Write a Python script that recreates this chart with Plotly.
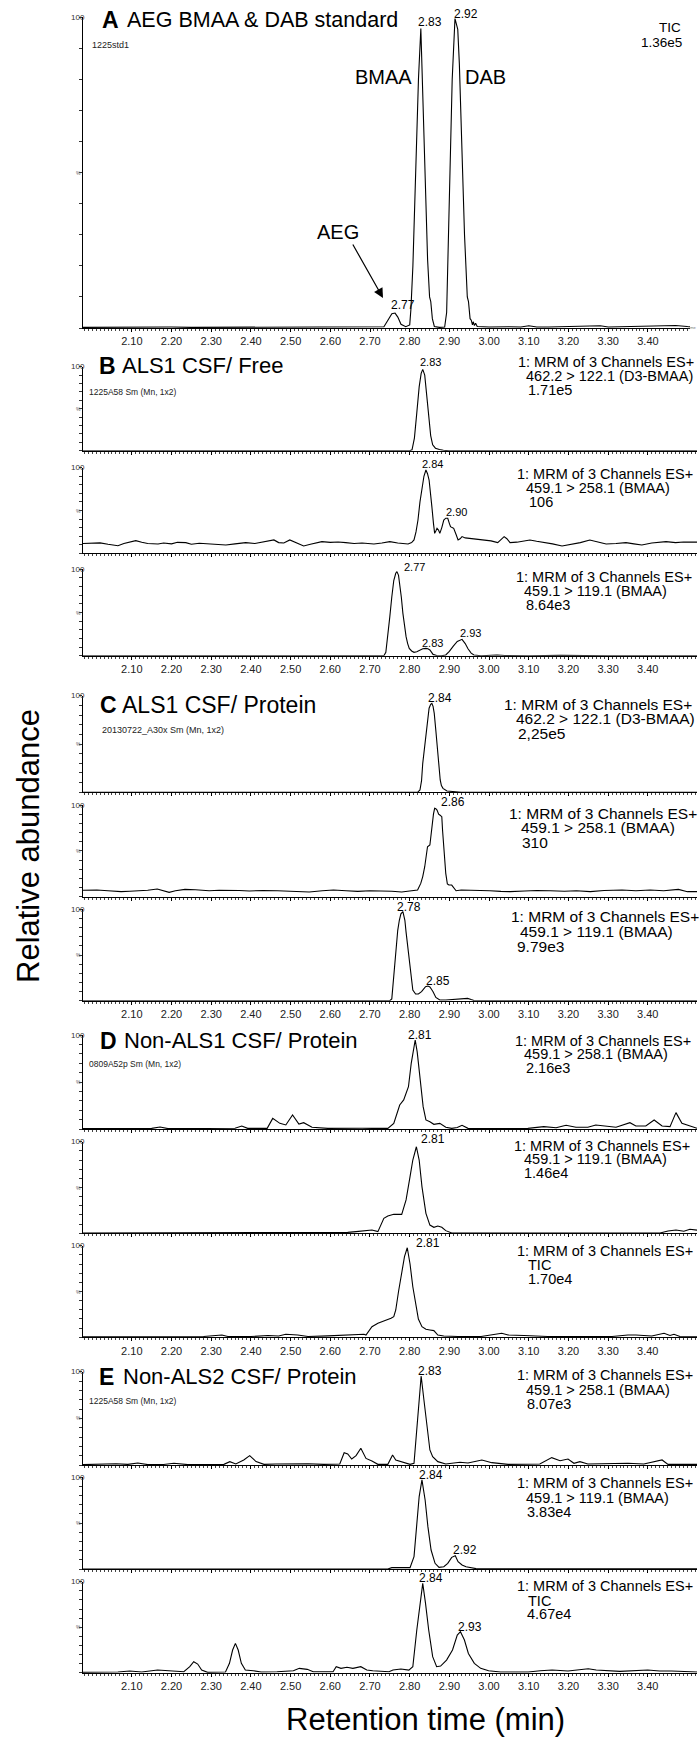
import plotly.graph_objects as go

W, H = 699, 1740
FONT = "Liberation Sans, Arial, Helvetica, sans-serif"

# ---------------- data (retention time, relative abundance %) ----------------
A_pts = [(1.977,0.2),(2.05,0.3),(2.10,0.2),(2.15,0.2),(2.20,0.3),(2.25,0.2),(2.30,0.2),(2.35,0.2),(2.40,0.3),
         (2.45,0.2),(2.50,0.2),(2.55,0.2),(2.60,0.2),(2.65,0.3),(2.70,0.3),(2.735,0.4),(2.745,2.5),(2.755,4.6),
         (2.763,4.8),(2.770,3.5),(2.778,1.2),(2.790,0.4),(2.800,1.0),(2.803,6.0),(2.808,20),(2.815,50),(2.822,80),
         (2.828,96.3),(2.833,75),(2.838,50),(2.845,22),(2.850,10),(2.853,8.5),(2.857,3),(2.862,0.5),(2.875,0.2),
         (2.888,0.3),(2.893,5),(2.900,45),(2.907,80),(2.914,99.5),(2.918,97),(2.921,96),(2.925,85),(2.932,55),
         (2.938,30),(2.945,10),(2.948,8.5),(2.952,3),(2.955,2.5),(2.958,1.0),(2.960,2.0),(2.963,0.8),(2.966,1.5),
         (2.970,0.5),(2.985,0.3),(3.00,0.3),(3.05,0.4),(3.08,0.3),(3.10,0.7),(3.12,0.3),(3.15,0.3),(3.20,0.4),
         (3.25,0.5),(3.28,0.7),(3.30,0.3),(3.35,0.4),(3.40,0.5),(3.45,0.6),(3.47,0.8),(3.506,0.4)]

B1_pts = [(1.977,0),(2.30,0),(2.60,0),(2.80,0),(2.806,1),(2.812,15),(2.818,45),(2.824,76),(2.829,92),(2.833,96.8),
          (2.838,90),(2.843,64),(2.848,38),(2.853,18),(2.858,7),(2.865,3),(2.875,1.5),(2.885,0.5),(2.90,0),
          (3.20,0),(3.524,0)]

B2_pts = [(1.977,11.5),(2.003,11.7),(2.02,12.2),(2.04,10.5),(2.065,8.9),(2.08,11.5),(2.095,13.5),(2.110,14.8),
          (2.125,13),(2.14,11.5),(2.166,10.9),(2.18,12),(2.20,11),(2.215,12.8),(2.236,12.5),(2.25,10.5),(2.27,11.8),
          (2.29,11),(2.307,10.5),(2.337,9.7),(2.36,11),(2.387,12.5),(2.41,11.5),(2.43,13),(2.458,15.6),
          (2.47,12.5),(2.483,12),(2.498,15.6),(2.51,13),(2.533,8.6),(2.55,10.5),(2.579,13.6),(2.60,12.8),
          (2.62,13.2),(2.639,12.5),(2.66,11.5),(2.68,12),(2.710,10.9),(2.73,12),(2.750,13.6),(2.77,12),
          (2.785,11.5),(2.796,10.9),(2.805,12.5),(2.811,15.6),(2.816,25),(2.821,38.9),(2.826,60),(2.831,77.8),
          (2.836,90),(2.841,97.3),(2.845,93),(2.849,85.6),(2.853,70),(2.856,54.5),(2.860,35),(2.863,23.3),
          (2.866,26),(2.869,29.2),(2.873,27),(2.876,23.3),(2.881,30),(2.886,38.9),(2.891,41),(2.896,40.9),
          (2.900,35),(2.903,31.1),(2.907,30),(2.911,29.2),(2.917,22),(2.922,15.6),(2.927,17),(2.932,19.5),
          (2.940,18),(2.952,17.5),(2.97,16.5),(2.992,15.6),(3.005,14.5),(3.022,12.5),(3.030,16),(3.038,19.5),
          (3.045,17),(3.053,12.5),(3.07,13),(3.09,15),(3.103,15.6),(3.12,14),(3.143,12.5),(3.16,11),
          (3.184,8.6),(3.20,10),(3.23,12.5),(3.254,15.6),(3.27,13.5),(3.295,10.9),(3.32,11.5),(3.345,12.5),
          (3.365,11),(3.385,9.7),(3.41,12),(3.446,13.6),(3.47,12.5),(3.49,13.2),(3.524,13)]

B3_pts = [(1.977,0),(2.30,0),(2.60,0),(2.735,0),(2.740,4),(2.745,22),(2.750,45),(2.755,68),(2.760,87),
          (2.765,95.4),(2.768,97.3),(2.772,93),(2.775,84),(2.779,68),(2.783,49),(2.787,34),(2.791,22),
          (2.795,14),(2.799,8.5),(2.805,5.5),(2.811,3.9),(2.818,4.5),(2.826,6.6),(2.833,8),(2.841,8.5),
          (2.846,8),(2.851,6.6),(2.859,1.5),(2.868,0.3),(2.880,0),(2.891,0.8),(2.900,5),(2.910,11),
          (2.920,16.5),(2.932,18.9),(2.940,14),(2.947,8),(2.955,3),(2.962,0.8),(2.98,0),(3.02,0.8),
          (3.04,0.3),(3.10,0),(3.18,0.4),(3.30,0),(3.38,0.3),(3.524,0)]

C1_pts = [(1.977,0),(2.40,0),(2.70,0),(2.82,0),(2.826,2.4),(2.830,12),(2.833,30),(2.838,48),(2.842,64.5),
          (2.846,78),(2.849,87),(2.853,91),(2.856,92),(2.859,89),(2.862,81.7),(2.866,64),(2.869,47.2),
          (2.873,28),(2.877,12.8),(2.880,7),(2.884,4.1),(2.894,1.4),(2.909,0.5),(2.93,0),(3.524,0)]

C2_pts = [(1.977,7.0),(2.012,7.3),(2.04,6.5),(2.073,5.5),(2.095,6),(2.118,6.2),(2.14,7),(2.164,8.4),
          (2.18,6),(2.194,4.7),(2.21,6.5),(2.234,8.0),(2.26,7.5),(2.295,6.5),(2.32,7),(2.345,7.3),
          (2.37,6.8),(2.396,6.2),(2.43,6.8),(2.467,6.5),(2.50,6),(2.547,5.1),(2.58,6.5),(2.608,7.3),
          (2.64,6.5),(2.669,5.8),(2.70,6.5),(2.729,6.5),(2.755,6),(2.780,5.1),(2.800,6),(2.820,7.3),
          (2.828,14.5),(2.833,22),(2.838,32.7),(2.842,45),(2.845,54.5),(2.851,56.4),(2.856,76.4),
          (2.860,90),(2.863,96.4),(2.866,96),(2.869,94.5),(2.873,90),(2.876,89.1),(2.881,87.3),
          (2.883,72),(2.886,54.5),(2.891,25.5),(2.895,14),(2.899,12.7),(2.906,12.7),(2.913,9.1),
          (2.917,6.5),(2.93,7.3),(2.952,7.3),(2.98,6.5),(3.002,6.5),(3.03,5.8),(3.053,5.5),(3.09,6.2),
          (3.12,6.8),(3.154,6.5),(3.19,6),(3.22,6.5),(3.255,5.5),(3.29,6.8),(3.335,7.3),(3.37,6.5),
          (3.406,7.3),(3.44,6.5),(3.477,8.0),(3.50,5.5),(3.524,5.5)]

C3_pts = [(1.977,0),(2.40,0),(2.70,0),(2.750,0),(2.755,2),(2.758,18),(2.762,40.9),(2.766,62),(2.770,77),
          (2.774,88),(2.778,95),(2.783,97.4),(2.788,88),(2.791,75),(2.795,59),(2.799,44),(2.802,30),
          (2.808,11.7),(2.815,7.3),(2.822,7.3),(2.830,9.9),(2.835,13),(2.840,15.3),(2.846,16),(2.851,15),
          (2.855,12.5),(2.859,9.9),(2.866,3.6),(2.876,0.7),(2.891,0.7),(2.92,1.5),(2.931,2.5),(2.940,2.7),
          (2.946,2.5),(2.955,1.2),(2.962,0.3),(3.00,0),(3.524,0)]

D1_pts = [(1.977,0.4),(2.09,0.7),(2.15,0.7),(2.171,2.1),(2.191,0.4),(2.26,0.5),(2.342,0.4),(2.360,0.8),
          (2.377,3.2),(2.392,0.7),(2.441,0.7),(2.455,11.3),(2.473,6.0),(2.488,4.3),(2.505,14.9),(2.521,5.3),
          (2.533,6.7),(2.554,1.8),(2.594,0.7),(2.644,1.1),(2.68,0.8),(2.705,0.7),(2.745,0.7),(2.760,6.0),
          (2.775,25.5),(2.785,30.9),(2.797,45),(2.804,69.9),(2.809,85),(2.814,94.7),(2.819,82),(2.824,62.8),
          (2.829,42),(2.834,23.8),(2.841,9.6),(2.851,7.8),(2.861,5.0),(2.876,6.0),(2.891,1.8),(2.906,0.7),
          (2.920,1.5),(2.932,3.9),(2.947,0.7),(2.997,0.4),(3.05,0.6),(3.098,0.7),(3.138,2.5),(3.169,1.4),
          (3.194,3.9),(3.219,1.8),(3.249,1.8),(3.269,4.3),(3.290,3.2),(3.320,1.8),(3.355,6.7),(3.370,3.2),
          (3.395,3.2),(3.416,9.6),(3.436,3.2),(3.456,2.5),(3.471,17.4),(3.486,6.0),(3.501,3.9),(3.524,0.7)]

D2_pts = [(1.977,0.3),(2.30,0.3),(2.50,0.4),(2.624,0.4),(2.644,1.0),(2.665,1.8),(2.685,2.9),(2.705,3.6),
          (2.720,1.8),(2.725,7.3),(2.735,16.4),(2.745,18.9),(2.760,20.7),(2.780,20.7),(2.786,28),(2.791,36.4),
          (2.801,61.8),(2.808,80),(2.817,94.5),(2.824,80),(2.831,51),(2.841,21.8),(2.851,9),(2.861,6.5),
          (2.871,8),(2.881,6.5),(2.891,2.9),(2.906,0.4),(3.00,0.3),(3.20,0.3),(3.431,0.4),(3.451,2.5),
          (3.471,3.6),(3.491,2.2),(3.506,4.4),(3.524,3.5)]

D3_pts = [(1.977,0.5),(2.10,0.6),(2.20,0.5),(2.281,0.8),(2.327,2.5),(2.342,0.8),(2.40,0.8),(2.443,2.0),
          (2.470,1.5),(2.488,3.3),(2.518,2.5),(2.544,0.8),(2.594,1.6),(2.644,2.5),(2.685,3.3),(2.690,2.5),
          (2.705,11.6),(2.720,15.3),(2.745,18.9),(2.753,20.7),(2.760,22.5),(2.765,29.8),(2.772,50),
          (2.780,69.9),(2.787,88),(2.794,97.8),(2.801,80),(2.808,55.2),(2.815,35),(2.822,20),(2.831,11.6),
          (2.841,8.7),(2.851,8),(2.861,7.3),(2.871,2.5),(2.886,1.5),(2.922,0.8),(2.98,0.8),(3.032,4.4),
          (3.048,2.5),(3.088,2),(3.118,1.6),(3.148,0.8),(3.249,0.8),(3.310,0.8),(3.350,2.5),(3.370,2.5),
          (3.410,1.5),(3.441,4.4),(3.456,2),(3.466,3.3),(3.481,0.8),(3.524,0.5)]

E1_pts = [(1.977,0.4),(2.060,1.4),(2.090,0.7),(2.115,2.1),(2.140,0.4),(2.18,0.6),(2.206,1.8),(2.241,0.4),
          (2.30,0.5),(2.332,0.7),(2.347,3.6),(2.362,1.1),(2.382,5.4),(2.397,10),(2.413,3.6),(2.433,0.7),
          (2.463,1.1),(2.503,1.4),(2.544,1.4),(2.584,0.7),(2.624,1.1),(2.635,13.2),(2.644,11.8),(2.654,6.4),
          (2.665,10),(2.677,17.9),(2.690,7.1),(2.705,4.3),(2.720,0.7),(2.745,0.7),(2.757,10.7),(2.765,5.4),
          (2.780,3.6),(2.801,0.7),(2.811,1.8),(2.818,41.1),(2.824,76.8),(2.829,95.4),(2.836,69.6),
          (2.844,37.5),(2.851,16.1),(2.858,8.9),(2.871,3.6),(2.891,1.1),(2.927,2.9),(2.947,2.1),(2.982,5.4),
          (3.007,2.5),(3.048,0.7),(3.128,1.1),(3.158,7.9),(3.179,4.6),(3.199,6.4),(3.214,1.8),(3.229,3.6),
          (3.249,1.1),(3.300,1.8),(3.350,1.8),(3.390,1.1),(3.436,5.4),(3.451,0.7),(3.491,0.7),(3.524,0.7)]

E2_pts = [(1.977,0),(2.40,0),(2.70,0),(2.745,0),(2.755,1.5),(2.775,1.8),(2.801,1.5),(2.811,13.5),
          (2.818,49.8),(2.824,79),(2.831,97.1),(2.839,75.3),(2.846,46.2),(2.854,20.7),(2.864,6.2),
          (2.874,1.8),(2.886,2.5),(2.896,6.2),(2.906,12.7),(2.915,14.5),(2.922,8),(2.932,4.4),(2.942,2.5),
          (2.957,1.5),(2.967,0.4),(3.10,0.3),(3.30,0.3),(3.37,0.7),(3.43,0.7),(3.524,0.3)]

E3_pts = [(1.977,0.4),(2.065,0.7),(2.095,1.8),(2.125,0.7),(2.165,2.9),(2.185,2.2),(2.231,1.1),(2.246,6.6),
          (2.256,12.1),(2.266,9.5),(2.276,2.9),(2.291,0.4),(2.336,0.7),(2.346,10.3),(2.354,24.9),(2.361,32.2),
          (2.368,24.9),(2.376,10.3),(2.386,2.9),(2.406,2.2),(2.426,0.7),(2.466,1.1),(2.507,2.2),(2.522,4.8),
          (2.542,3.7),(2.557,1.1),(2.607,1.1),(2.615,6.6),(2.627,4.8),(2.642,5.9),(2.657,4.8),(2.677,6.6),
          (2.692,2.9),(2.707,2.2),(2.748,1.1),(2.758,2.9),(2.778,4.0),(2.798,2.9),(2.808,6.6),(2.818,46.9),
          (2.826,76.2),(2.833,98.2),(2.840,76.2),(2.848,46.9),(2.858,17.6),(2.868,6.6),(2.878,7.3),
          (2.893,13.9),(2.908,24.9),(2.920,41.4),(2.928,45.1),(2.938,35.9),(2.948,21.2),(2.963,10.3),
          (2.979,4.8),(2.999,2.2),(3.029,0.7),(3.099,0.7),(3.129,2.2),(3.159,2.9),(3.199,1.8),(3.250,4.4),
          (3.270,2.9),(3.330,1.5),(3.400,2.9),(3.430,1.8),(3.460,1.8),(3.491,1.1),(3.524,0.7)]

tick_positions = [2.10, 2.20, 2.30, 2.40, 2.50, 2.60, 2.70, 2.80, 2.90, 3.00, 3.10, 3.20, 3.30, 3.40]
tick_labels = ["2.10", "2.20", "2.30", "2.40", "2.50", "2.60", "2.70", "2.80", "2.90", "3.00",
               "3.10", "3.20", "3.30", "3.40"]

# ---------------- layout geometry (pixels) ----------------
X0 = 1.977
# name, points, top px (100 %), baseline px (0 %), tick labels shown, left px, right px, x-range end
panels = [
    ("A",  A_pts,  17.0,   328.0,  True,  83, 690, 3.506),
    ("B1", B1_pts, 366.7,  450.7,  False, 83, 697, 3.524),
    ("B2", B2_pts, 467.7,  553.3,  False, 83, 697, 3.524),
    ("B3", B3_pts, 569.3,  655.7,  True,  83, 697, 3.524),
    ("C1", C1_pts, 695.7,  792.3,  False, 83, 697, 3.524),
    ("C2", C2_pts, 805.0,  896.7,  False, 83, 697, 3.524),
    ("C3", C3_pts, 909.3,  1000.7, True,  83, 697, 3.524),
    ("D1", D1_pts, 1035.0, 1129.0, False, 83, 697, 3.524),
    ("D2", D2_pts, 1141.7, 1233.3, False, 83, 697, 3.524),
    ("D3", D3_pts, 1245.7, 1337.3, True,  83, 697, 3.524),
    ("E1", E1_pts, 1371.7, 1465.0, False, 83, 697, 3.524),
    ("E2", E2_pts, 1477.3, 1569.0, False, 83, 697, 3.524),
    ("E3", E3_pts, 1581.7, 1672.7, True,  83, 697, 3.524),
]

fig = go.Figure()
layout_axes = {}
for i, (name, pts, top, base, labeled, left, right, xend) in enumerate(panels):
    n = i + 1
    xs = [p[0] for p in pts]
    ys = [p[1] for p in pts]
    xa = "x" if n == 1 else f"x{n}"
    ya = "y" if n == 1 else f"y{n}"
    fig.add_trace(go.Scatter(x=xs, y=ys, mode="lines", line=dict(color="black", width=1.1),
                             xaxis=xa, yaxis=ya, showlegend=False, hoverinfo="skip"))
    layout_axes["xaxis" if n == 1 else f"xaxis{n}"] = dict(
        domain=[left / W, right / W], range=[X0, xend], anchor=ya,
        showline=True, linecolor="black", linewidth=1.3,
        showgrid=False, zeroline=False,
        tickmode="array", tickvals=tick_positions, ticktext=tick_labels,
        showticklabels=labeled, ticks="outside", ticklen=3, tickwidth=1, tickcolor="black",
        tickfont=dict(size=11, color="#222", family=FONT),
        minor=dict(tickmode="linear", tick0=2.0, dtick=0.01, ticks="outside", ticklen=2,
                   tickwidth=1, tickcolor="#444", showgrid=False),
        fixedrange=True)
    layout_axes["yaxis" if n == 1 else f"yaxis{n}"] = dict(
        domain=[1 - base / H, 1 - top / H], range=[0, 100], anchor=xa,
        showline=True, linecolor="black", linewidth=1.3,
        showgrid=False, zeroline=False,
        tickmode="array", tickvals=[0, 10, 20, 30, 40, 50, 60, 70, 80, 90, 100],
        ticks="outside", ticklen=2.5, tickwidth=1, tickcolor="#333",
        showticklabels=False, fixedrange=True)

fig.update_layout(**layout_axes)


def txt(s, x, y, size, xanchor="left", bold=False, color="black", angle=0, pad=1, yanchor="middle"):
    fig.add_annotation(text=("<b>" + s + "</b>") if bold else s,
                       x=x / W, y=1 - y / H, xref="paper", yref="paper",
                       xanchor=xanchor, yanchor=yanchor, showarrow=False, textangle=angle,
                       borderpad=pad, font=dict(size=size, color=color, family=FONT))


# "100" and "%" marks on each y axis
for name, pts, top, base, labeled, left, right, xend in panels:
    txt("100", left - 5, top, 8, xanchor="center", color="#333", pad=0)
    txt("%", left - 5, (top + base) / 2, 5, xanchor="center", color="#555", pad=0)
txt("Time", 698, 327, 4, xanchor="right", color="#777", pad=0)

# panel titles
txt("A", 111, 20, 23, xanchor="center", bold=True)
txt("AEG BMAA &amp; DAB standard", 125, 20.5, 21.5)
txt("1225std1", 90, 45.5, 9, color="#222")
txt("B", 107, 366, 23, xanchor="center", bold=True)
txt("ALS1 CSF/ Free", 120, 366, 22)
txt("1225A58 Sm (Mn, 1x2)", 87, 391.7, 8.5, color="#222")
txt("C", 108, 705, 23, xanchor="center", bold=True)
txt("ALS1 CSF/ Protein", 120, 705, 23)
txt("20130722_A30x Sm (Mn, 1x2)", 100, 730, 9, color="#222")
txt("D", 108, 1040.7, 23, xanchor="center", bold=True)
txt("Non-ALS1 CSF/ Protein", 122, 1040.7, 22)
txt("0809A52p Sm (Mn, 1x2)", 87, 1064.3, 8.5, color="#222")
txt("E", 106.4, 1376.7, 23, xanchor="center", bold=True)
txt("Non-ALS2 CSF/ Protein", 121, 1376.7, 22)
txt("1225A58 Sm (Mn, 1x2)", 87, 1400.7, 8.5, color="#222")

# panel A specifics
txt("TIC", 682, 28, 13.5, xanchor="right", pad=0)
txt("1.36e5", 683, 42, 13.5, xanchor="right", pad=0)
txt("BMAA", 383, 76.7, 20, xanchor="center")
txt("DAB", 485, 76.7, 20, xanchor="center")
txt("AEG", 338, 231.7, 20, xanchor="center")
fig.add_annotation(text="", x=383 / W, y=1 - 298 / H, xref="paper", yref="paper",
                   ax=-31, ay=-55, showarrow=True, arrowhead=2, arrowsize=1.6,
                   arrowwidth=1.2, arrowcolor="black", standoff=0)

# channel descriptions
MRM = "1: MRM of 3 Channels ES+"
chan = [
    ([MRM, "462.2 &gt; 122.1 (D3-BMAA)", "1.71e5"], [517, 525, 527], [361.7, 375.5, 390], 14.5),
    ([MRM, "459.1 &gt; 258.1 (BMAA)", "106"], [516, 525, 528], [474, 488, 502], 14.5),
    ([MRM, "459.1 &gt; 119.1 (BMAA)", "8.64e3"], [515, 523, 525], [577, 591, 605], 14.5),
    ([MRM, "462.2 &gt; 122.1 (D3-BMAA)", "2,25e5"], [503, 515, 517], [704.5, 719, 733.5], 15.5),
    ([MRM, "459.1 &gt; 258.1 (BMAA)", "310"], [508, 520, 521], [813, 827.7, 842.3], 15.5),
    ([MRM, "459.1 &gt; 119.1 (BMAA)", "9.79e3"], [510, 519, 516], [917, 931.5, 946], 15.5),
    ([MRM, "459.1 &gt; 258.1 (BMAA)", "2.16e3"], [513.5, 523, 525], [1040.5, 1054.3, 1068], 14.5),
    ([MRM, "459.1 &gt; 119.1 (BMAA)", "1.46e4"], [513, 523, 523], [1145.5, 1159.3, 1173], 14.5),
    ([MRM, "TIC", "1.70e4"], [516, 527, 527], [1251, 1265, 1279], 14.5),
    ([MRM, "459.1 &gt; 258.1 (BMAA)", "8.07e3"], [516, 525, 526], [1375, 1390, 1404], 14.5),
    ([MRM, "459.1 &gt; 119.1 (BMAA)", "3.83e4"], [516, 525, 526], [1483.3, 1497.7, 1511.7], 14.5),
    ([MRM, "TIC", "4.67e4"], [516, 527, 526], [1586, 1600.7, 1614.3], 14.5),
]
for lines, xs, ys, size in chan:
    for s, x, y in zip(lines, xs, ys):
        txt(s, x, y, size, pad=0)

# peak retention-time labels
peak_labels = [
    ("2.83", 430, 21.7, 12), ("2.92", 466, 14, 12), ("2.77", 403.4, 305, 12),
    ("2.83", 430, 361.7, 11),
    ("2.84", 432.8, 464, 11), ("2.90", 456.6, 511.7, 11),
    ("2.77", 414.9, 567.3, 11), ("2.83", 432, 643, 11), ("2.93", 470.9, 633, 11),
    ("2.84", 440, 698.3, 12),
    ("2.86", 452.5, 801.7, 12),
    ("2.78", 409.5, 907.3, 12), ("2.85", 438, 980.7, 12),
    ("2.81", 419.8, 1035, 12),
    ("2.81", 432.8, 1139, 12),
    ("2.81", 428, 1242.7, 12),
    ("2.83", 430, 1370.7, 12),
    ("2.84", 431.2, 1475, 12), ("2.92", 464.7, 1550, 12),
    ("2.84", 431.2, 1578.3, 12), ("2.93", 470, 1627.3, 12),
]
for s, x, y, size in peak_labels:
    txt(s, x, y, size, xanchor="center", pad=0)

# axis titles
txt("Relative abundance", 28, 846, 31, xanchor="center", angle=-90)
txt("Retention time (min)", 425, 1738, 31, xanchor="center", pad=0, yanchor="bottom")

fig.update_layout(width=W, height=H, margin=dict(l=0, r=0, t=0, b=0),
                  paper_bgcolor="white", plot_bgcolor="white", showlegend=False)

fig.write_html("out.html", config={"displayModeBar": False},
               post_script="document.body.style.margin='0px';document.body.style.overflow='hidden';")
